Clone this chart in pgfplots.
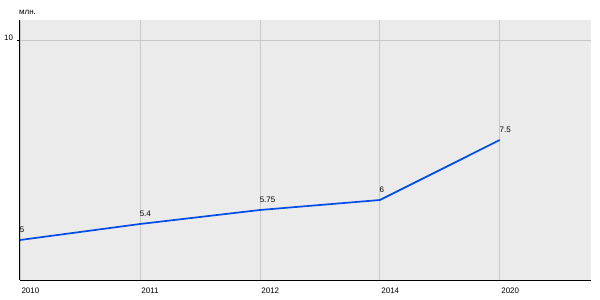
\documentclass[border=0pt]{standalone}
\usepackage{fontspec}
\setmainfont{Liberation Sans}
\usepackage{pgfplots}
\pgfplotsset{compat=1.18}
\definecolor{bgc}{HTML}{EBEBEB}
\definecolor{gridc}{HTML}{C8C8C8}
\definecolor{linec}{HTML}{004CE6}
\begin{document}
\begin{tikzpicture}
\useasboundingbox (-20bp,-20bp) rectangle (580bp,280bp);
\begin{axis}[
  at={(0,0)}, anchor=origin,
  scale only axis, width=571bp, height=260bp,
  xmin=0, xmax=4.76, ymin=4, ymax=10.5,
  axis lines*=left,
  axis line style={black, line width=1bp, -},
  axis background/.style={fill=bgc},
  xtick={0,1,2,3,4},
  xticklabels={2010,2011,2012,2014,2020},
  ytick={10},
  xmajorgrids, ymajorgrids,
  grid style={gridc, line width=0.8bp},
  major tick length=3bp,
  xtick style={draw=none},
  ytick style={black, line width=0.8bp},
  tick align=outside,
  every tick label/.style={font=\fontsize{8}{9}\selectfont},
  /pgf/number format/assume math mode=true,
  xticklabel style={anchor=north west, xshift=-2bp, yshift=-1bp},
  yticklabel style={xshift=-0.5bp, yshift=2bp},
  clip=false,
]
\addplot[linec, line width=1.7bp, mark=none,
  nodes near coords,
  point meta=explicit symbolic,
  every node near coord/.style={font=\fontsize{8}{9}\selectfont, anchor=south west, inner sep=0pt, xshift=-1bp, yshift=7bp, black}]
  coordinates {(0,5) [5] (1,5.4) [5.4] (2,5.75) [5.75] (3,6) [6] (4,7.5) [7.5]};
\node[anchor=south west, inner sep=0pt, font=\fontsize{8}{9}\selectfont] at (rel axis cs:0,1) [yshift=5bp, xshift=-1bp] {млн.};
\end{axis}
\end{tikzpicture}
\end{document}
